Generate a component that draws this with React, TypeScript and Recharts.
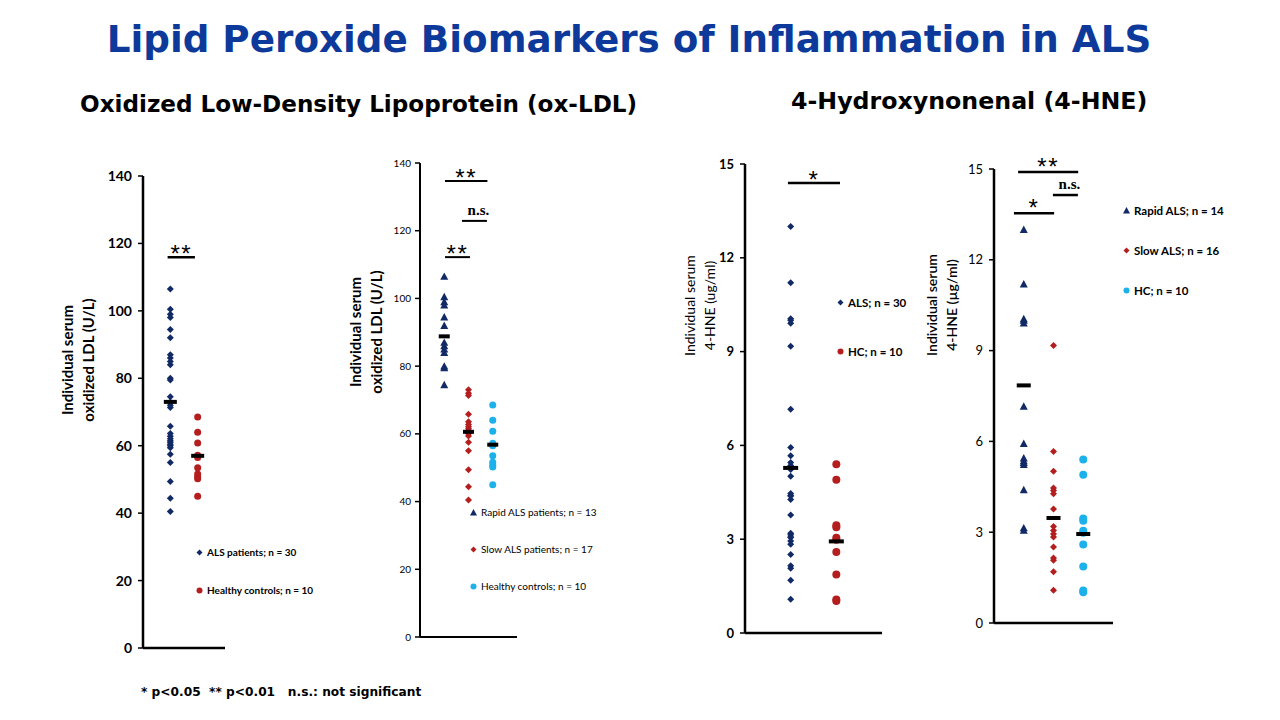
import React from 'react';
import { ScatterChart, Scatter, XAxis, YAxis, ReferenceLine, Legend } from 'recharts';

const NAVY = '#112a66';
const RED = '#b41e1e';
const SKY = '#1cb1ea';

// ox-LDL (U/L)
const RAPID_OXLDL = [106.5, 100.5, 99, 98, 94.5, 92, 87, 86, 85, 84, 80, 79.5, 74.5];
const SLOW_OXLDL = [73, 72, 71.3, 65.8, 63.6, 62.8, 62.1, 61.5, 61, 60.4, 60, 59.4, 57.5, 55, 49.4, 44.4, 40.5];
const ALS_OXLDL = [...RAPID_OXLDL, ...SLOW_OXLDL];
const HC_OXLDL = [68.5, 64, 60.8, 57.2, 56.5, 53.5, 51.6, 50.8, 50.2, 45];
const OXLDL_TICKS = [0, 20, 40, 60, 80, 100, 120, 140];
const MEAN_OXLDL_ALL = [73, 57];
const MEAN_OXLDL_GROUPS = [88.8, 60.6, 56.8];

// 4-HNE (ug/ml)
const RAPID_HNE = [13.0, 11.2, 10.05, 10.0, 9.91, 7.16, 5.93, 5.45, 5.36, 5.3, 5.23, 4.4, 3.14, 3.06];
const SLOW_HNE = [9.17, 5.67, 5.01, 4.46, 4.38, 4.27, 3.77, 3.19, 3.06, 2.94, 2.84, 2.51, 2.15, 2.07, 1.69, 1.08];
const ALS_HNE = [...RAPID_HNE, ...SLOW_HNE];
const HC_HNE = [5.4, 4.9, 3.45, 3.38, 3.05, 2.98, 2.59, 1.87, 1.07, 1.02];
const HNE_TICKS = [0, 3, 6, 9, 12, 15];
const MEAN_HNE_ALL = [5.28, 2.93];
const MEAN_HNE_GROUPS = [7.85, 3.47, 2.94];

// significance brackets: group positions (x) and height (y)
const SIG_OXLDL_ALL = [{ x1: 0.9, x2: 1.9, y: 115.9, text: '**' }];
const SIG_OXLDL_GROUPS = [
  { x1: 1.03, x2: 2.78, y: 134.7, text: '**' },
  { x1: 1.73, x2: 2.76, y: 122.9, text: 'n.s.' },
  { x1: 1.03, x2: 2.06, y: 112.2, text: '**' },
];
const SIG_HNE_ALL = [{ x1: 0.94, x2: 2.08, y: 14.39, text: '*' }];
const SIG_HNE_GROUPS = [
  { x1: 0.81, x2: 2.83, y: 14.9, text: '**' },
  { x1: 1.98, x2: 2.82, y: 14.14, text: 'n.s.' },
  { x1: 0.67, x2: 2.02, y: 13.54, text: '*' },
];

const Y_AXIS_W = 110;
const M_TOP = 40;
const M_RIGHT = 140;
const M_BOTTOM = 10;
const X_AXIS_H = 4;

function Marker({ cx, cy, shape, color, size }: any) {
  const r = size / 2;
  if (shape === 'diamond') {
    return <polygon points={`${cx},${cy - r} ${cx + r},${cy} ${cx},${cy + r} ${cx - r},${cy}`} fill={color} />;
  }
  if (shape === 'triangle') {
    return <polygon points={`${cx},${cy - r} ${cx + r},${cy + r * 0.85} ${cx - r},${cy + r * 0.85}`} fill={color} />;
  }
  return <circle cx={cx} cy={cy} r={r} fill={color} />;
}

function Panel({ cfg }: any) {
  const { plot, max, ticks, groups, means, sig } = cfg;
  const left = plot.left - Y_AXIS_W;
  const top = plot.top - M_TOP;
  const width = Y_AXIS_W + (plot.right - plot.left) + M_RIGHT;
  const height = M_TOP + (plot.bottom - plot.top) + X_AXIS_H + M_BOTTOM;
  const meanData = means.map((m: number, i: number) => ({ x: i + 1, y: m }));

  const yLabel = (p: any) => {
    const vb = p.viewBox;
    const axisX = vb.x + vb.width;
    const cy = vb.y + vb.height / 2 + cfg.label.dy;
    return (
      <g>
        {cfg.label.lines.map((t: string, i: number) => {
          const x = axisX + cfg.label.dx[i];
          return (
            <text
              key={i}
              x={x}
              y={cy}
              transform={`rotate(-90 ${x} ${cy})`}
              textAnchor="middle"
              dominantBaseline="central"
              fontFamily="Lato"
              fontSize={cfg.label.size}
              fontWeight={cfg.label.weight}
              fill="#000"
            >
              {t}
            </text>
          );
        })}
      </g>
    );
  };

  const sigLabel = (text: string) => (p: any) => {
    const vb = p.viewBox;
    const cx = vb.x + vb.width / 2;
    if (text === 'n.s.') {
      return (
        <text x={cx + 4} y={vb.y - 6} textAnchor="middle" fontFamily="Liberation Serif" fontWeight={700} fontSize={15} fill="#000">
          {text}
        </text>
      );
    }
    return (
      <text x={cx} y={vb.y + cfg.starDy} textAnchor="middle" fontFamily="Liberation Sans" fontSize={24} letterSpacing={1.5} fill="#000">
        {text}
      </text>
    );
  };

  const legend = cfg.legend;

  return (
    <div style={{ position: 'absolute', left, top }}>
      <ScatterChart width={width} height={height} margin={{ top: M_TOP, right: M_RIGHT, bottom: M_BOTTOM, left: 0 }}>
        <XAxis
          type="number"
          dataKey="x"
          domain={[0, groups.length + 1]}
          tick={false}
          tickLine={false}
          height={X_AXIS_H}
          axisLine={{ stroke: '#000', strokeWidth: cfg.axisW }}
        />
        <YAxis
          type="number"
          dataKey="y"
          domain={[0, max]}
          ticks={ticks}
          interval={0}
          width={Y_AXIS_W}
          axisLine={{ stroke: '#000', strokeWidth: cfg.axisW }}
          tickLine={{ stroke: '#000', strokeWidth: 1.5 }}
          tickSize={5}
          tickMargin={cfg.tickMargin}
          tick={{ fill: '#000', fontFamily: 'Lato', fontSize: cfg.tickSize, fontWeight: cfg.tickWeight }}
          label={{ content: yLabel }}
        />
        {groups.map((g: any, gi: number) => (
          <Scatter
            key={g.name}
            name={g.name}
            data={g.values.map((v: number) => ({ x: gi + 1, y: v }))}
            isAnimationActive={false}
            shape={(p: any) => <Marker cx={p.cx} cy={p.cy} shape={g.shape} color={g.color} size={g.size} />}
          />
        ))}
        <Scatter
          name="mean"
          data={meanData}
          isAnimationActive={false}
          legendType="none"
          shape={(p: any) => (
            <rect x={p.cx - cfg.barW / 2} y={p.cy - 2} width={cfg.barW} height={4} fill="#000" />
          )}
        />
        {sig.map((s: any, i: number) => (
          <ReferenceLine
            key={i}
            segment={[{ x: s.x1, y: s.y }, { x: s.x2, y: s.y }]}
            stroke="#000"
            strokeWidth={cfg.axisW}
            ifOverflow="visible"
            label={{ content: sigLabel(s.text) }}
          />
        ))}
        <Legend
          layout="vertical"
          align="center"
          verticalAlign="middle"
          wrapperStyle={{ left: legend.x - left, top: legend.y - top - legend.gap / 2, width: 'auto' }}
          content={() => (
            <div>
              {groups.map((g: any) => (
                <div
                  key={g.name}
                  style={{
                    height: legend.gap,
                    display: 'flex',
                    alignItems: 'center',
                    whiteSpace: 'nowrap',
                    fontFamily: 'Lato',
                    fontSize: legend.size,
                    fontWeight: legend.weight,
                    color: '#000',
                  }}
                >
                  <svg width={9} height={9} style={{ marginRight: 3 }}>
                    <Marker cx={4.5} cy={4.5} shape={g.shape} color={g.color} size={g.shape === 'triangle' ? 7 : 6} />
                  </svg>
                  {g.legend}
                </div>
              ))}
            </div>
          )}
        />
      </ScatterChart>
    </div>
  );
}

const PANELS = [
  {
    key: 'oxldl-all',
    plot: { left: 143, top: 176, right: 225, bottom: 648 },
    max: 140,
    ticks: OXLDL_TICKS,
    axisW: 2.5,
    tickSize: 14,
    tickWeight: 700,
    tickMargin: 6,
    barW: 13,
    starDy: 5,
    groups: [
      { name: 'ALS', values: ALS_OXLDL, color: NAVY, shape: 'diamond', size: 7, legend: 'ALS patients; n = 30' },
      { name: 'HC', values: HC_OXLDL, color: RED, shape: 'circle', size: 7, legend: 'Healthy controls; n = 10' },
    ],
    means: MEAN_OXLDL_ALL,
    sig: SIG_OXLDL_ALL,
    label: { lines: ['Individual serum', 'oxidized LDL (U/L)'], dx: [-76, -55], dy: -52, size: 15, weight: 700 },
    legend: { x: 195, y: 552, gap: 38, size: 10, weight: 700 },
  },
  {
    key: 'oxldl-groups',
    plot: { left: 420, top: 163, right: 517, bottom: 637 },
    max: 140,
    ticks: OXLDL_TICKS,
    axisW: 2,
    tickSize: 10,
    tickWeight: 400,
    tickMargin: 4,
    barW: 11,
    starDy: 5,
    groups: [
      { name: 'Rapid', values: RAPID_OXLDL, color: NAVY, shape: 'triangle', size: 8, legend: 'Rapid ALS patients; n = 13' },
      { name: 'Slow', values: SLOW_OXLDL, color: RED, shape: 'diamond', size: 7, legend: 'Slow ALS patients; n = 17' },
      { name: 'HC', values: HC_OXLDL, color: SKY, shape: 'circle', size: 7, legend: 'Healthy controls; n = 10' },
    ],
    means: MEAN_OXLDL_GROUPS,
    sig: SIG_OXLDL_GROUPS,
    label: { lines: ['Individual serum', 'oxidized LDL (U/L)'], dx: [-65, -44], dy: -68, size: 15, weight: 700 },
    legend: { x: 469, y: 512, gap: 37, size: 10, weight: 400 },
  },
  {
    key: 'hne-all',
    plot: { left: 745, top: 164, right: 882, bottom: 633 },
    max: 15,
    ticks: HNE_TICKS,
    axisW: 2.5,
    tickSize: 13,
    tickWeight: 700,
    tickMargin: 6,
    barW: 15,
    starDy: 5,
    groups: [
      { name: 'ALS', values: ALS_HNE, color: NAVY, shape: 'diamond', size: 7, legend: 'ALS; n = 30' },
      { name: 'HC', values: HC_HNE, color: RED, shape: 'circle', size: 8, legend: 'HC; n = 10' },
    ],
    means: MEAN_HNE_ALL,
    sig: SIG_HNE_ALL,
    label: { lines: ['Individual serum', '4-HNE (ug/ml)'], dx: [-56, -36], dy: -93, size: 14, weight: 400 },
    legend: { x: 836, y: 302, gap: 49, size: 11.5, weight: 700 },
  },
  {
    key: 'hne-groups',
    plot: { left: 994, top: 169, right: 1113, bottom: 623 },
    max: 15,
    ticks: HNE_TICKS,
    axisW: 2.5,
    tickSize: 13,
    tickWeight: 400,
    tickMargin: 6,
    barW: 14,
    starDy: 3,
    groups: [
      { name: 'Rapid', values: RAPID_HNE, color: NAVY, shape: 'triangle', size: 8, legend: 'Rapid ALS; n = 14' },
      { name: 'Slow', values: SLOW_HNE, color: RED, shape: 'diamond', size: 7, legend: 'Slow ALS; n = 16' },
      { name: 'HC', values: HC_HNE, color: SKY, shape: 'circle', size: 8, legend: 'HC; n = 10' },
    ],
    means: MEAN_HNE_GROUPS,
    sig: SIG_HNE_GROUPS,
    label: { lines: ['Individual serum', '4-HNE (\u00b5g/ml)'], dx: [-63, -43], dy: -91, size: 14, weight: 600 },
    legend: { x: 1122, y: 210, gap: 40, size: 11.5, weight: 700 },
  },
];

export default function App() {
  return (
    <div style={{ position: 'absolute', left: 0, top: 0, width: 1280, height: 720, background: '#fff', overflow: 'hidden' }}>
      <div
        style={{
          position: 'absolute',
          left: 0,
          top: 17,
          width: 1258,
          textAlign: 'center',
          fontFamily: 'DejaVu Sans',
          fontWeight: 700,
          fontSize: 37.3,
          color: '#0d3a9a',
          whiteSpace: 'nowrap',
        }}
      >
        Lipid Peroxide Biomarkers of Inflammation in ALS
      </div>
      <div
        style={{
          position: 'absolute',
          left: 80,
          top: 91,
          fontFamily: 'DejaVu Sans',
          fontWeight: 700,
          fontSize: 23.1,
          color: '#000',
          whiteSpace: 'nowrap',
        }}
      >
        Oxidized Low-Density Lipoprotein (ox-LDL)
      </div>
      <div
        style={{
          position: 'absolute',
          left: 791,
          top: 87,
          fontFamily: 'DejaVu Sans',
          fontWeight: 700,
          fontSize: 23.7,
          color: '#000',
          whiteSpace: 'nowrap',
        }}
      >
        4-Hydroxynonenal (4-HNE)
      </div>
      {PANELS.map((cfg) => (
        <Panel key={cfg.key} cfg={cfg} />
      ))}
      <div
        style={{
          position: 'absolute',
          left: 141,
          top: 685,
          fontFamily: 'DejaVu Sans',
          fontWeight: 700,
          fontSize: 12.2,
          color: '#000',
          whiteSpace: 'pre',
        }}
      >
        {'* p<0.05  ** p<0.01   n.s.: not significant'}
      </div>
    </div>
  );
}
